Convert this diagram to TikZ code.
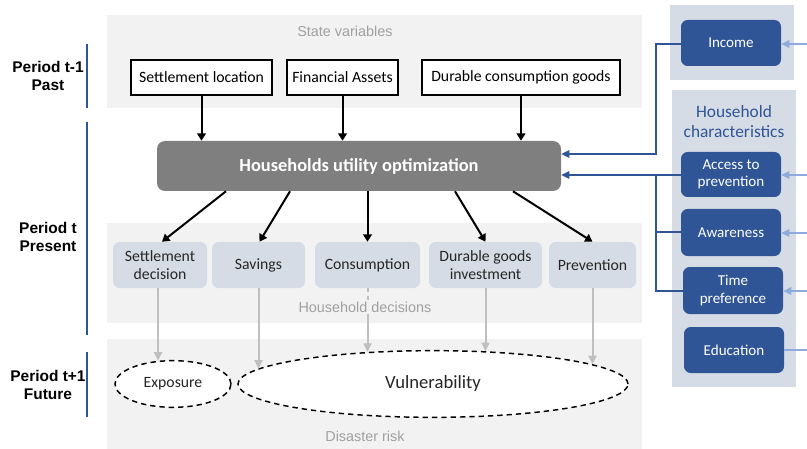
\documentclass[tikz,border=0pt]{standalone}
\usepackage{fontspec}
\setmainfont{Carlito}
\newfontfamily\arialfont{Liberation Sans}
\usetikzlibrary{arrows.meta,shapes.geometric,fit}
\definecolor{panelgray}{HTML}{F2F2F2}
\definecolor{decfill}{HTML}{D6DCE5}
\definecolor{utilgray}{HTML}{7F7F7F}
\definecolor{darkblue}{HTML}{2F5597}
\definecolor{lightblue}{HTML}{8FAADC}
\definecolor{linegray}{HTML}{BFBFBF}
\definecolor{titlegray}{HTML}{A0A0A0}
\definecolor{textdark}{HTML}{262626}
\newcommand{\boxfont}{\fontsize{11.8}{13.5}\selectfont}
\begin{document}
\begin{tikzpicture}[x=0.75pt,y=-0.75pt,
  panel/.style={fill=panelgray,draw=none,inner sep=0pt},
  sidepanel/.style={fill=decfill,draw=none,inner sep=0pt},
  paneltitle/.style={font=\arialfont\fontsize{10.8}{12}\selectfont,text=titlegray,inner sep=1pt},
  period/.style={font=\arialfont\bfseries\fontsize{11.6}{13}\selectfont,align=center,inner sep=0pt},
  periodbar/.style={draw=darkblue,line width=2.2pt},
  statebox/.style={draw=black,line width=1.1pt,fill=white,inner sep=0pt},
  utilbox/.style={fill=utilgray,rounded corners=6pt,inner sep=0pt},
  decbox/.style={fill=decfill,rounded corners=5pt,inner sep=0pt},
  charbox/.style={fill=darkblue,rounded corners=5pt,inner sep=0pt},
  boxtext/.style={align=center,text=textdark,font=\boxfont,inner sep=0pt},
  chartext/.style={align=center,text=white,font=\fontsize{11.3}{13}\selectfont,inner sep=0pt},
  blackarr/.style={draw=black,line width=1.5pt,-{Triangle[width=6.5pt,length=5.5pt]}},
  grayarr/.style={draw=linegray,line width=1.5pt,-{Triangle[width=6pt,length=6.5pt]}},
  blueline/.style={draw=darkblue,line width=1.5pt},
  bluearr/.style={blueline,-{Triangle[width=5.5pt,length=6pt]}},
  lightarr/.style={draw=lightblue,line width=1.5pt,-{Triangle[width=5.5pt,length=6pt]}},
  riskell/.style={ellipse,draw=black,line width=1.1pt,dash pattern=on 4pt off 3pt,fill=white,inner sep=0pt}
]
\useasboundingbox (0,0) rectangle (807,449);

% background bands
\node[panel,fit={(107,15) (642,108)}] (statepanel) {};
\node[panel,fit={(107,223) (642,323)}] (decpanel) {};
\node[panel,fit={(107,339) (642,449)}] (riskpanel) {};
\node[paneltitle] (statetitle) at (345,31) {State variables};
\node[paneltitle] (dectitle) at (365,307) {Household decisions};
\node[paneltitle] (risktitle) at (365,436) {Disaster risk};

% periods
\node[period] (p1) at (48,76) {Period t-1\\Past};
\node[period] (p2) at (48,237) {Period t\\Present};
\node[period] (p3) at (48,385) {Period t+1\\Future};
\draw[periodbar] (87,44) -- (87,108);
\draw[periodbar] (87,122) -- (87,335);
\draw[periodbar] (87,352) -- (87,417);

% state variables
\node[statebox,fit={(131,60) (272,95)}] (sloc) {};
\node[boxtext,text=black] at (sloc.center) {Settlement location};
\node[statebox,fit={(287,60) (398,95)}] (fin) {};
\node[boxtext,text=black] at (fin.center) {Financial Assets};
\node[statebox,fit={(422,60) (620,95)}] (dur) {};
\node[boxtext,text=black] at (dur.center) {Durable consumption goods};

% optimisation
\node[utilbox,fit={(157,141) (561,191)}] (util) {};
\node[text=white,font=\bfseries\fontsize{13.8}{16}\selectfont] at (util.center) {Households utility optimization};

\draw[blackarr] (sloc.south) -- (sloc.south |- util.north);
\draw[blackarr] (fin.south) -- (fin.south |- util.north);
\draw[blackarr] (dur.south) -- (dur.south |- util.north);

% decisions
\node[decbox,fit={(113,242) (207,288)}] (sd) {};
\node[boxtext] at (sd.center) {Settlement\\decision};
\node[decbox,fit={(212,242) (305,288)}] (sv) {};
\node[boxtext] at (sv.center) {Savings};
\node[decbox,fit={(315,242) (420,288)}] (cons) {};
\node[boxtext] at (cons.center) {Consumption};
\node[decbox,fit={(429,242) (542,288)}] (dgi) {};
\node[boxtext] at (dgi.center) {Durable goods\\investment};
\node[decbox,fit={(549,242) (636,288)}] (prev) {};
\node[boxtext] at (prev.center) {Prevention};

\draw[blackarr] ([shift={(-133,0)}]util.south) -- ([shift={(2,0)}]sd.north);
\draw[blackarr] ([shift={(-69,0)}]util.south) -- ([shift={(1,0)}]sv.north);
\draw[blackarr] (cons.north |- util.south) -- (cons.north);
\draw[blackarr] ([shift={(96,0)}]util.south) -- (dgi.north);
\draw[blackarr] ([shift={(154,0)}]util.south) -- (prev.north);

% disaster risk
\node[riskell,minimum width=87pt,minimum height=35pt] (exp) at (173,384) {};
\node[boxtext] at (exp.center) {Exposure};
\node[riskell,minimum width=292.5pt,minimum height=50pt] (vul) at (433,384) {};
\node[boxtext,font=\fontsize{14}{16}\selectfont] at (vul.center) {Vulnerability};

\draw[grayarr] ([shift={(-2,0)}]sd.south) -- ([shift={(-2,0)}]sd.south |- exp.124);
\draw[grayarr] (sv.south) -- (sv.south |- vul.175);
\draw[draw=linegray,line width=1.5pt,dash pattern=on 3pt off 3pt] (cons.south) -- (cons.south |- dectitle.north);
\draw[grayarr] (cons.south |- dectitle.south) -- (cons.south |- vul.154);
\draw[grayarr] (dgi.south) -- (dgi.south |- vul.31);
\draw[grayarr] (prev.south) -- (prev.south |- vul.7);

% household characteristics
\node[sidepanel,fit={(670,5) (794,80)}] (incpanel) {};
\node[sidepanel,fit={(672,90) (796,387)}] (charpanel) {};
\node[text=darkblue,align=center,font=\fontsize{13}{15}\selectfont,inner sep=0pt] (chartitle) at (734,122) {Household\\characteristics};

\node[charbox,fit={(681,20) (781,66)}] (inc) {};
\node[chartext] at (inc.center) {Income};
\node[charbox,fit={(681,152) (781,197)}] (acc) {};
\node[chartext] at (acc.center) {Access to\\prevention};
\node[charbox,fit={(681,209) (781,256)}] (aw) {};
\node[chartext] at (aw.center) {Awareness};
\node[charbox,fit={(683,267) (783,314)}] (tp) {};
\node[chartext] at (tp.center) {Time\\preference};
\node[charbox,fit={(684,327) (784,373)}] (edu) {};
\node[chartext] at (edu.center) {Education};

% outside drivers entering from the right
\coordinate (incsrc) at (807,44);
\coordinate (accsrc) at (807,175);
\coordinate (awsrc) at (807,233);
\coordinate (tpsrc) at (807,291);
\coordinate (edusrc) at (807,350);
\draw[lightarr] (incsrc) -- (incsrc -| inc.east);
\draw[lightarr] (accsrc) -- (accsrc -| acc.east);
\draw[lightarr] (awsrc) -- (awsrc -| aw.east);
\draw[lightarr] (tpsrc) -- (tpsrc -| tp.east);
\draw[draw=lightblue,line width=1.5pt] (edu.east |- edusrc) -- (edusrc);

% links into the optimisation
\coordinate (incbus) at (656,44);
\coordinate (jn) at (656,175);
\draw[bluearr] (inc.west |- incbus) -- (incbus) |- ([shift={(0,-12)}]util.east);
\draw[bluearr] (acc.west |- jn) -- (jn -| util.east);
\draw[blueline] (aw.west) -| (jn);
\draw[blueline] (tp.west) -| (jn);
\end{tikzpicture}
\end{document}
